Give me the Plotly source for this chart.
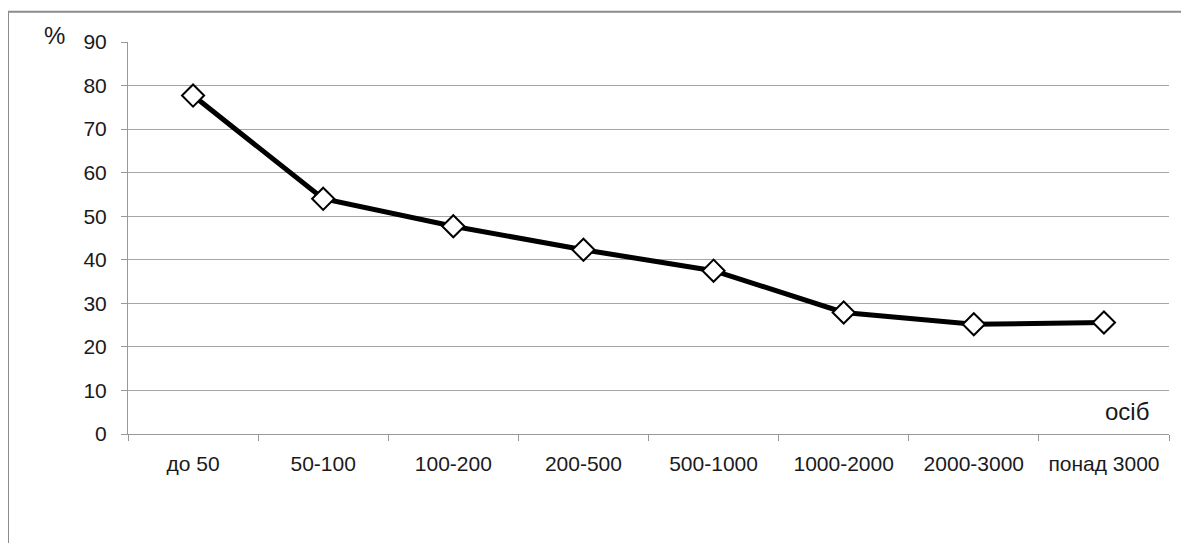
import plotly.graph_objects as go

categories = ["до 50", "50-100", "100-200", "200-500", "500-1000", "1000-2000", "2000-3000", "понад 3000"]
values = [77.7, 54.0, 47.7, 42.3, 37.5, 27.9, 25.2, 25.6]
y_ticks = [0, 10, 20, 30, 40, 50, 60, 70, 80, 90]

# page has an 8px body margin, so work in window pixels and shift
OFF = 8
W, H = 1189 - OFF, 543 - OFF
L, R, T, B = 128 - OFF, 1169 - OFF, 42.3 - OFF, 433.8 - OFF

fig = go.Figure()
fig.add_trace(go.Scatter(
    x=categories, y=values, mode="lines+markers",
    line=dict(color="black", width=5),
    marker=dict(symbol="diamond", size=17, color="white",
                line=dict(color="black", width=2)),
    cliponaxis=False, showlegend=False,
))

font = dict(family="Liberation Sans, Arial, sans-serif", size=21, color="#1a1a1a")
font_big = dict(family="Liberation Sans, Arial, sans-serif", size=24, color="#1a1a1a")

fig.update_layout(
    width=W, height=H,
    margin=dict(l=L, r=W - R, t=T, b=H - B, pad=0),
    paper_bgcolor="white", plot_bgcolor="white",
    font=font,
    xaxis=dict(
        type="category", tickson="boundaries", ticks="outside", ticklen=6,
        tickcolor="#999999", showline=True, linecolor="#999999", linewidth=1,
        showgrid=False, range=[-0.5, len(categories) - 0.5],
        tickfont=font, ticklabelstandoff=11,
    ),
    yaxis=dict(
        range=[0, 90], tickvals=y_ticks, ticks="outside", ticklen=6,
        tickcolor="#999999", showline=True, linecolor="#999999", linewidth=1,
        showgrid=True, gridcolor="#a6a6a6", gridwidth=1, zeroline=False,
        tickfont=font, ticklabelstandoff=10,
    ),
)

pw, ph = R - L, B - T
def px(x):
    return (x - OFF - L) / pw
def py(y):
    return (B - (y - OFF)) / ph

fig.add_shape(type="rect", xref="paper", yref="paper",
              x0=px(8), x1=px(1200), y0=py(12), y1=py(600),
              line=dict(color="#8c8c8c", width=2), layer="below")

fig.add_annotation(text="%", xref="paper", yref="paper", x=px(54), y=py(36),
                   showarrow=False, font=font_big, xanchor="center", yanchor="middle")
fig.add_annotation(text="осіб", xref="paper", yref="paper", x=px(1151), y=py(411),
                   showarrow=False, font=font_big, xanchor="right", yanchor="middle")

fig.write_html("out.html")
